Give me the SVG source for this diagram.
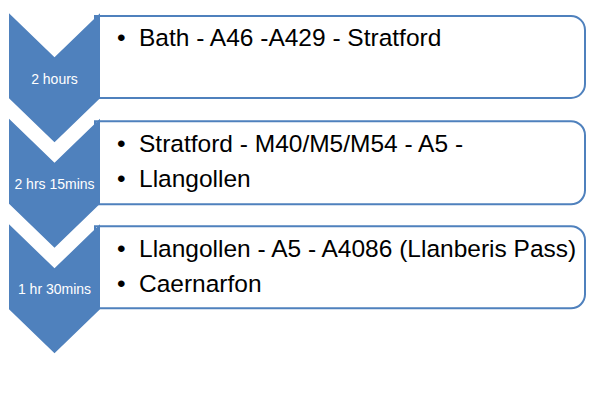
<svg xmlns="http://www.w3.org/2000/svg" width="599" height="405" viewBox="0 0 599 405">
<style>
.box{fill:#ffffff;stroke:#4F81BD;stroke-width:2}
.chev{fill:#4F81BD;stroke:none}
.lbl{font-family:"Liberation Sans",Arial,sans-serif;font-size:14px;fill:#ffffff;text-anchor:middle}
.txt{font-family:"Liberation Sans",Arial,sans-serif;font-size:24.5px;fill:#000000}
</style>
<rect width="599" height="405" fill="#ffffff"/>
<g id="step1">
<path class="box" d="M95,16 H571 A14,14 0 0 1 585,30 V84 A14,14 0 0 1 571,98 H95 Z"/>
<path class="chev" d="M9,13.3 L54.5,57.3 L100,13.3 V98.3 L54.5,142.3 L9,98.3 Z"/>
<text class="lbl" x="54.5" y="84.3">2 hours</text>
<text class="txt" x="117" y="46">•</text>
<text class="txt" x="139" y="46">Bath - A46 -A429 - Stratford</text>
</g>
<g id="step2">
<path class="box" d="M95,121.2 H571 A14,14 0 0 1 585,135.2 V190.3 A14,14 0 0 1 571,204.3 H95 Z"/>
<path class="chev" d="M9,118.8 L54.5,162.8 L100,118.8 V203.8 L54.5,247.8 L9,203.8 Z"/>
<text class="lbl" x="54.5" y="188.5">2 hrs 15mins</text>
<text class="txt" x="117" y="151.7">•</text>
<text class="txt" x="139" y="151.7">Stratford - M40/M5/M54 - A5 -</text>
<text class="txt" x="117" y="187.3">•</text>
<text class="txt" x="139" y="187.3">Llangollen</text>
</g>
<g id="step3">
<path class="box" d="M95,226.2 H571 A14,14 0 0 1 585,240.2 V294.3 A14,14 0 0 1 571,308.3 H95 Z"/>
<path class="chev" d="M9,224.3 L54.5,268.3 L100,224.3 V309.3 L54.5,353.3 L9,309.3 Z"/>
<text class="lbl" x="54.5" y="294">1 hr 30mins</text>
<text class="txt" x="117" y="256.7">•</text>
<text class="txt" x="139" y="256.7">Llangollen - A5 - A4086 (Llanberis Pass)</text>
<text class="txt" x="117" y="292.3">•</text>
<text class="txt" x="139" y="292.3">Caernarfon</text>
</g>
<g id="connectors"></g>
</svg>
